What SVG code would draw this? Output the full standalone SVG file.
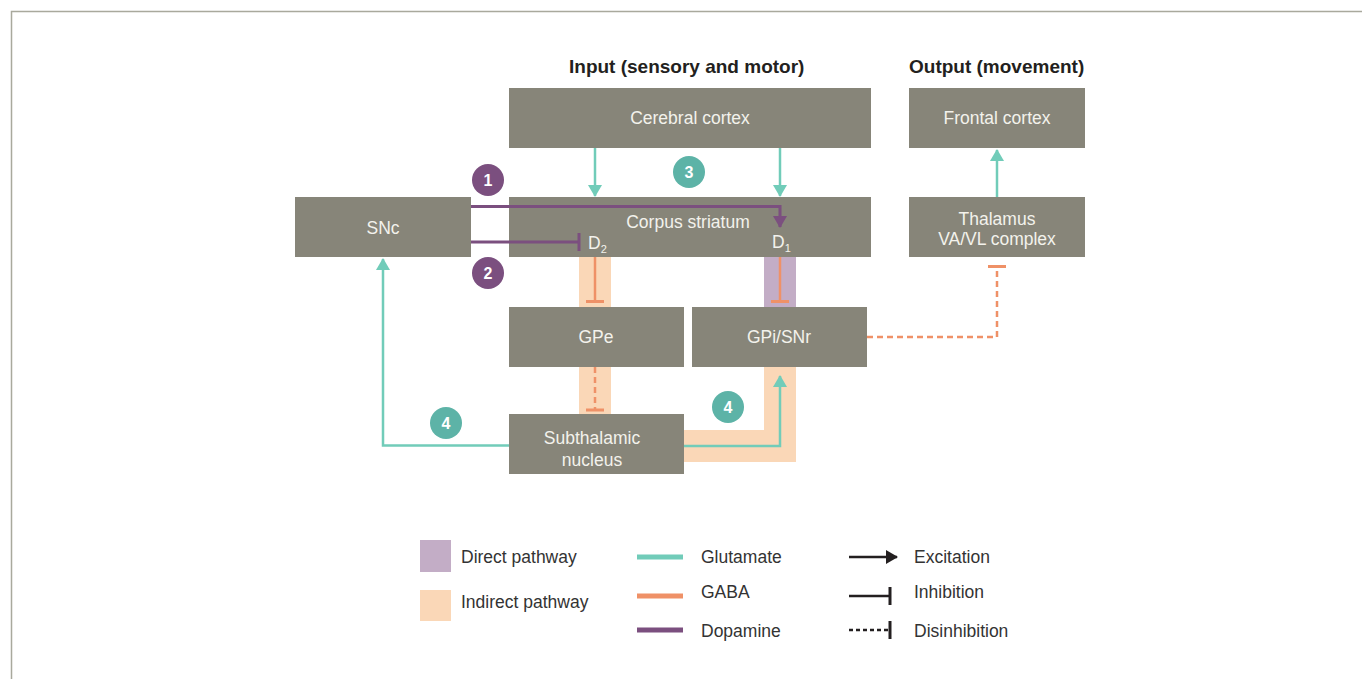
<svg xmlns="http://www.w3.org/2000/svg" width="1362" height="679" viewBox="0 0 1362 679">
  <style>
    .node { fill: #878579; }
    .ntext { font-family: "Liberation Sans", Arial, sans-serif; font-size: 17.5px; fill: #f3f2ec; text-anchor: middle; }
    .rtext { font-family: "Liberation Sans", Arial, sans-serif; font-size: 17.5px; fill: #f3f2ec; }
    .sub { font-size: 11px; }
    .head { font-family: "Liberation Sans", Arial, sans-serif; font-size: 19px; font-weight: bold; fill: #231f20; }
    .leg { font-family: "Liberation Sans", Arial, sans-serif; font-size: 17.5px; fill: #333333; }
    .badge-p { fill: #7b4f7f; }
    .badge-t { fill: #5db3a7; }
    .btext { font-family: "Liberation Sans", Arial, sans-serif; font-size: 16px; font-weight: bold; fill: #ffffff; text-anchor: middle; }
    .glu { stroke: #71ccb9; stroke-width: 2.5; fill: none; }
    .gaba { stroke: #ef9167; stroke-width: 2.5; fill: none; }
    .gaba-dash { stroke: #ef9167; stroke-width: 2.5; fill: none; stroke-dasharray: 6 4; }
    .dopa { stroke: #7b4f7f; stroke-width: 3; fill: none; }
    .indirect { fill: #fad7b7; }
    .direct { fill: #c3adc6; }
    .key { stroke: #231f20; stroke-width: 2.5; fill: none; }
  </style>
  <defs>
    <marker id="arrow-glu" markerUnits="userSpaceOnUse" markerWidth="14" markerHeight="14" viewBox="0 0 12 14" refX="11" refY="7" orient="auto">
      <path d="M0,0 L12,7 L0,14 Z" fill="#71ccb9"/>
    </marker>
    <marker id="arrow-dopa" markerUnits="userSpaceOnUse" markerWidth="14" markerHeight="14" viewBox="0 0 12 14" refX="11" refY="7" orient="auto">
      <path d="M0,0 L12,7 L0,14 Z" fill="#7b4f7f"/>
    </marker>
    <marker id="arrow-key" markerUnits="userSpaceOnUse" markerWidth="14" markerHeight="14" viewBox="0 0 12 14" refX="11" refY="7" orient="auto">
      <path d="M0,0 L12,7 L0,14 Z" fill="#231f20"/>
    </marker>
    <marker id="tee-gaba" markerUnits="userSpaceOnUse" markerWidth="4" markerHeight="20" viewBox="-2 -10 4 20" refX="0" refY="0" orient="auto">
      <path d="M0,-9 V9" stroke="#ef9167" stroke-width="3"/>
    </marker>
    <marker id="tee-dopa" markerUnits="userSpaceOnUse" markerWidth="4" markerHeight="20" viewBox="-2 -10 4 20" refX="0" refY="0" orient="auto">
      <path d="M0,-9 V9" stroke="#7b4f7f" stroke-width="3"/>
    </marker>
    <marker id="tee-key" markerUnits="userSpaceOnUse" markerWidth="4" markerHeight="20" viewBox="-2 -10 4 20" refX="0" refY="0" orient="auto">
      <path d="M0,-9 V9" stroke="#231f20" stroke-width="3"/>
    </marker>
  </defs>

  <!-- panel frame -->
  <rect x="11.5" y="11.5" width="1400" height="700" fill="none" stroke="#a9a99d" stroke-width="1.5"/>

  <!-- column headings -->
  <text class="head" x="569" y="73">Input (sensory and motor)</text>
  <text class="head" x="909" y="73">Output (movement)</text>

  <!-- pathway bands -->
  <g id="bands">
    <rect class="indirect" x="579" y="257" width="32" height="50"/>
    <rect class="indirect" x="579" y="367" width="32" height="47"/>
    <rect class="direct" x="764" y="257" width="32" height="50"/>
    <path class="indirect" d="M684,430 H764 V367 H796 V462 H684 Z"/>
  </g>

  <!-- nodes -->
  <g id="cerebral-cortex">
    <rect class="node" x="509" y="88" width="362" height="60"/>
    <text class="ntext" x="690" y="124">Cerebral cortex</text>
  </g>
  <g id="frontal-cortex">
    <rect class="node" x="909" y="88" width="176" height="60"/>
    <text class="ntext" x="997" y="124">Frontal cortex</text>
  </g>
  <g id="snc">
    <rect class="node" x="295" y="197" width="176" height="60"/>
    <text class="ntext" x="383" y="234">SNc</text>
  </g>
  <g id="corpus-striatum">
    <rect class="node" x="509" y="197" width="362" height="60"/>
    <text class="ntext" x="688" y="228">Corpus striatum</text>
    <text class="rtext" x="588" y="249">D<tspan class="sub" dy="4">2</tspan></text>
    <text class="rtext" x="772" y="248">D<tspan class="sub" dy="4">1</tspan></text>
  </g>
  <g id="thalamus">
    <rect class="node" x="909" y="197" width="176" height="60"/>
    <text class="ntext" x="997" y="225">Thalamus</text>
    <text class="ntext" x="997" y="245">VA/VL complex</text>
  </g>
  <g id="gpe">
    <rect class="node" x="509" y="307" width="175" height="60"/>
    <text class="ntext" x="596" y="343">GPe</text>
  </g>
  <g id="gpi-snr">
    <rect class="node" x="692" y="307" width="175" height="60"/>
    <text class="ntext" x="779" y="343">GPi/SNr</text>
  </g>
  <g id="subthalamic-nucleus">
    <rect class="node" x="509" y="414" width="175" height="60"/>
    <text class="ntext" x="592" y="444">Subthalamic</text>
    <text class="ntext" x="592" y="466">nucleus</text>
  </g>

  <!-- connectors -->
  <g id="connectors">
    <path class="glu" d="M595,148 V196" marker-end="url(#arrow-glu)"/>
    <path class="glu" d="M780,148 V196" marker-end="url(#arrow-glu)"/>
    <path class="glu" d="M997,197 V150" marker-end="url(#arrow-glu)"/>
    <path class="glu" d="M509,445.5 H383 V259" marker-end="url(#arrow-glu)"/>
    <path class="glu" d="M684,446 H780 V376" marker-end="url(#arrow-glu)"/>
    <path class="dopa" d="M471,206.5 H780 V227" marker-end="url(#arrow-dopa)"/>
    <path class="dopa" d="M471,242 H579" marker-end="url(#tee-dopa)"/>
    <path class="gaba" d="M595,257 V301.5" marker-end="url(#tee-gaba)"/>
    <path class="gaba" d="M780,257 V301.5" marker-end="url(#tee-gaba)"/>
    <path class="gaba-dash" d="M595,367 V410" marker-end="url(#tee-gaba)"/>
    <path class="gaba-dash" d="M867,337 H997 V266.5" marker-end="url(#tee-gaba)"/>
  </g>

  <!-- numbered badges -->
  <g id="badges">
    <circle class="badge-p" cx="488" cy="180" r="16"/>
    <text class="btext" x="488" y="186">1</text>
    <circle class="badge-p" cx="488" cy="273" r="16"/>
    <text class="btext" x="488" y="279">2</text>
    <circle class="badge-t" cx="689" cy="172" r="16"/>
    <text class="btext" x="689" y="178">3</text>
    <circle class="badge-t" cx="446" cy="423" r="16"/>
    <text class="btext" x="446" y="429">4</text>
    <circle class="badge-t" cx="728" cy="407" r="16"/>
    <text class="btext" x="728" y="413">4</text>
  </g>

  <!-- legend -->
  <g id="legend">
    <rect class="direct" x="420" y="540" width="31" height="32"/>
    <text class="leg" x="461" y="563">Direct pathway</text>
    <rect class="indirect" x="420" y="590" width="31" height="31"/>
    <text class="leg" x="461" y="608">Indirect pathway</text>

    <path d="M637,557 H683" stroke="#71ccb9" stroke-width="5"/>
    <text class="leg" x="701" y="563">Glutamate</text>
    <path d="M637,596 H683" stroke="#ef9167" stroke-width="5"/>
    <text class="leg" x="701" y="598">GABA</text>
    <path d="M637,630 H683" stroke="#7b4f7f" stroke-width="5"/>
    <text class="leg" x="701" y="637">Dopamine</text>

    <path class="key" d="M849,557 H897" marker-end="url(#arrow-key)"/>
    <text class="leg" x="914" y="563">Excitation</text>
    <path class="key" d="M849,596 H890" marker-end="url(#tee-key)"/>
    <text class="leg" x="914" y="598">Inhibition</text>
    <path class="key" d="M849,630 H890" stroke-dasharray="4 3" stroke-width="2" marker-end="url(#tee-key)"/>
    <text class="leg" x="914" y="637">Disinhibition</text>
  </g>
</svg>
